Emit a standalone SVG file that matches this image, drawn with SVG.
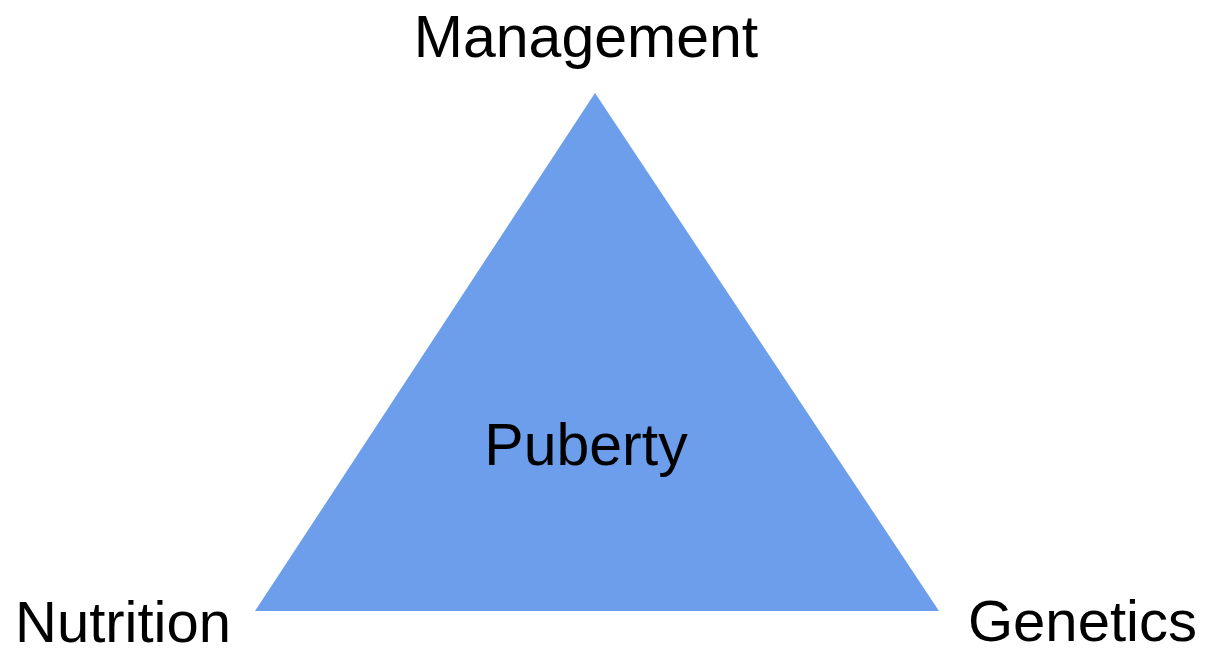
<svg xmlns="http://www.w3.org/2000/svg" width="1214" height="655" viewBox="0 0 1214 655">
<style>
.lbl{font-family:"Liberation Sans",Arial,sans-serif;font-size:59px;fill:#000000;}
.tri{fill:#6d9eeb;stroke:none;}
</style>
<rect width="1214" height="655" fill="#ffffff"/>
<g id="puberty">
<polygon class="tri" points="595,93 939,611 255,611"/>
<text class="lbl" x="586" y="465" text-anchor="middle">Puberty</text>
</g>
<g id="management">
<text class="lbl" x="586" y="57" text-anchor="middle">Management</text>
</g>
<g id="nutrition">
<text class="lbl" x="15" y="642" style="font-size:58px">Nutrition</text>
</g>
<g id="genetics">
<text class="lbl" x="968" y="641" style="font-size:58px">Genetics</text>
</g>
<g id="connectors"></g>
</svg>
